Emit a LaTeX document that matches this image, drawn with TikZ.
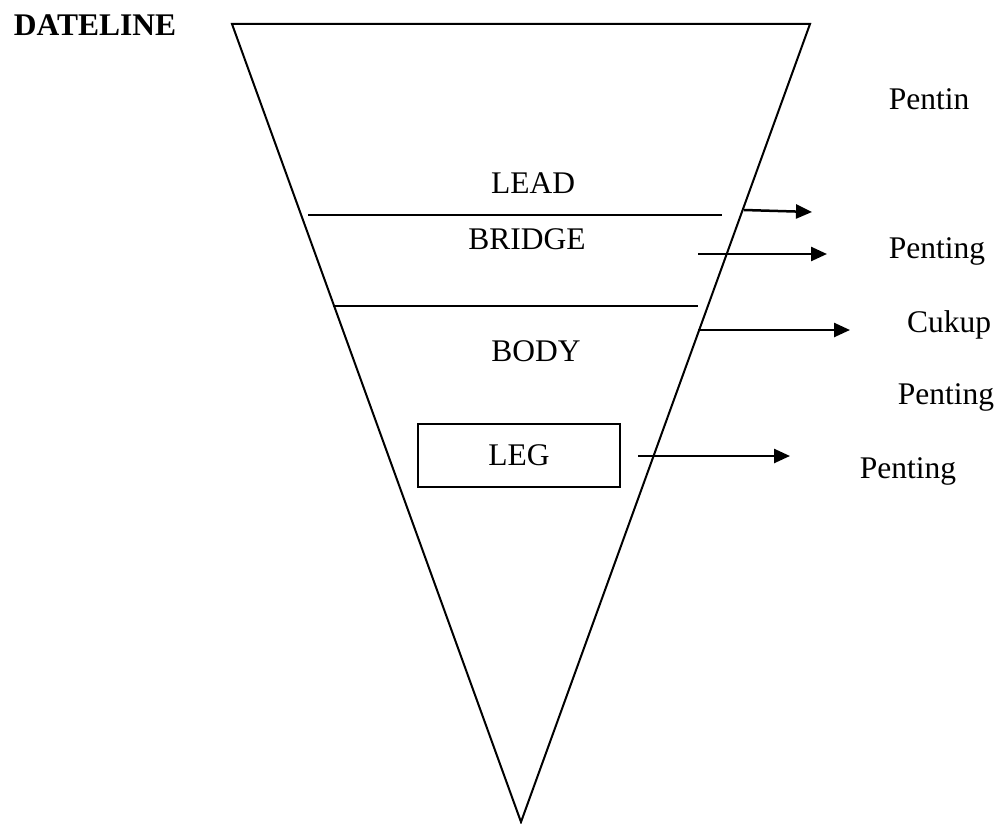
\documentclass[tikz,border=0pt]{standalone}
\usepackage{fontspec}
\setmainfont{Liberation Serif}
\usetikzlibrary{arrows.meta}
\begin{document}
\begin{tikzpicture}[x=1pt,y=-1pt,
  txt/.style={anchor=base,inner sep=0pt,font=\fontsize{31.5}{36}\selectfont},
  edge/.style={line width=2pt},
  arr/.style={line width=2.5pt,-{Triangle[length=16pt,width=14pt]}}]
\useasboundingbox (0,0) rectangle (1001,824);
% triangle
\coordinate (tl) at (232,24);
\coordinate (tr) at (810,24);
\coordinate (ap) at (521,822);
\draw[edge,line join=miter] (tl) -- (tr) -- (ap) -- cycle;
% section lines
\coordinate (l1a) at (308,215);
\coordinate (l1b) at (722,215);
\coordinate (l2a) at (333,306);
\coordinate (l2b) at (698,306);
\draw[edge] (l1a) -- (l1b);
\draw[edge] (l2a) -- (l2b);
% labels
\node[txt,font=\fontsize{31.5}{36}\selectfont\bfseries] (dateline) at (95,36) {DATELINE};
\node[txt] (lead) at (533,193) {LEAD};
\node[txt] (bridge) at (527,249) {BRIDGE};
\node[txt] (body) at (536,361) {BODY};
\node[draw,line width=2pt,minimum width=202pt,minimum height=63pt,inner sep=0pt,
      font=\fontsize{31.5}{36}\selectfont] (leg) at (519,455.5) {LEG};
% right texts
\node[txt] (p0) at (929,110) {Pentin};
\node[txt] (p1) at (937,258) {Penting};
\node[txt] (c2) at (949,332) {Cukup};
\node[txt] (p2) at (946,404) {Penting};
\node[txt] (p3) at (908,478) {Penting};
% arrows
\coordinate (a1s) at (744,210);
\coordinate (a1e) at (812,212);
\coordinate (a2s) at (698,254);
\coordinate (a2e) at (827,254);
\coordinate (a3s) at (698,330);
\coordinate (a3e) at (850,330);
\coordinate (a4s) at (638,456);
\coordinate (a4e) at (790,456);
\draw[arr] (a1s) -- (a1e);
\draw[arr] (a2s) -- (a2e);
\draw[arr] (a3s) -- (a3e);
\draw[arr] (a4s) -- (a4e);
\end{tikzpicture}
\end{document}
